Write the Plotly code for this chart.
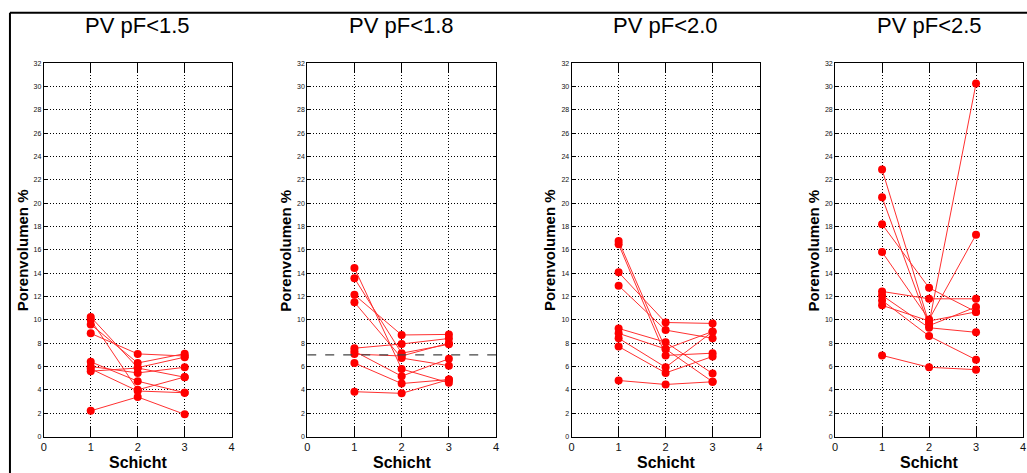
import plotly.graph_objects as go

W, H = 1027, 473

titles = ["PV pF<1.5", "PV pF<1.8", "PV pF<2.0", "PV pF<2.5"]
schicht = [1, 2, 3]

# values per sample: (Schicht 1, Schicht 2, Schicht 3)
pv15_s1 = [10.25, 10.0, 9.6, 8.84, 6.4, 6.0, 5.6, 2.2, 5.8]
pv15_s2 = [5.9, 4.0, 6.3, 7.08, 4.74, 5.45, 5.87, 3.39, 3.9]
pv15_s3 = [6.8, 5.1, 7.1, 6.9, 3.75, 5.93, 5.08, 1.9, 3.75]

pv18_s1 = [14.44, 13.56, 12.14, 11.5, 7.57, 7.06, 6.3, 3.84, 7.3]
pv18_s2 = [5.79, 7.14, 8.7, 6.72, 7.93, 6.9, 4.54, 3.7, 5.17]
pv18_s3 = [4.6, 7.9, 8.75, 6.07, 8.4, 8.0, 4.88, 4.88, 6.66]

pv20_s1 = [16.75, 16.47, 14.07, 12.93, 9.26, 8.84, 8.42, 7.71, 4.8]
pv20_s2 = [7.5, 6.95, 9.77, 9.12, 8.08, 7.5, 5.93, 5.45, 4.46]
pv20_s3 = [9.0, 7.14, 9.69, 8.42, 5.39, 4.69, 8.98, 6.86, 4.69]

pv25_s1 = [22.88, 20.5, 18.19, 15.81, 12.43, 12.09, 11.66, 11.24, 6.95]
pv25_s2 = [9.69, 9.5, 12.74, 10.03, 11.8, 9.32, 8.61, 9.9, 5.93]
pv25_s3 = [30.25, 11.1, 10.68, 17.3, 11.8, 8.93, 6.58, 10.68, 5.73]

ref_line_18 = 7.0

panels = [
    (pv15_s1, pv15_s2, pv15_s3),
    (pv18_s1, pv18_s2, pv18_s3),
    (pv20_s1, pv20_s2, pv20_s3),
    (pv25_s1, pv25_s2, pv25_s3),
]

# pixel layout
x_left = [41, 306, 572, 837]
x_right = [230, 496, 761, 1026]
y_top, y_bot = 60, 439

fig = go.Figure()
font = "Liberation Sans, Arial, sans-serif"

annotations = []
for i, (s1, s2, s3) in enumerate(panels):
    n = i + 1
    xa = "x" if n == 1 else f"x{n}"
    ya = "y" if n == 1 else f"y{n}"
    for a, b, c in zip(s1, s2, s3):
        fig.add_trace(go.Scatter(
            x=schicht, y=[a, b, c], mode="lines+markers",
            line=dict(color="#ff3030", width=1),
            marker=dict(color="#ff0000", size=8),
            xaxis=xa, yaxis=ya, showlegend=False, hoverinfo="skip"))
    dom_x = [x_left[i] / W, x_right[i] / W]
    dom_y = [(H - y_bot) / H, (H - y_top) / H]
    axis_common = dict(
        showline=True, linecolor="black", linewidth=1, mirror="ticks",
        showgrid=True, gridcolor="black", gridwidth=1, griddash="1px,2px",
        zeroline=False, ticks="inside", tickcolor="black",
    )
    fig.update_layout(**{
        ("xaxis" if n == 1 else f"xaxis{n}"): dict(
            domain=dom_x, range=[0, 4], dtick=1, tick0=0,
            anchor=ya, ticklen=10,
            tickfont=dict(family=font, size=11, color="#111"),
            **axis_common),
        ("yaxis" if n == 1 else f"yaxis{n}"): dict(
            domain=dom_y, range=[0, 32], dtick=2, tick0=0,
            anchor=xa, ticklen=3,
            tickfont=dict(family=font, size=7, color="#111"),
            **axis_common),
    })
    cx = (x_left[i] + x_right[i]) / 2 / W
    annotations.append(dict(
        text=titles[i], x=cx, y=(H - 22) / H, xref="paper", yref="paper",
        showarrow=False, xanchor="center", yanchor="middle",
        font=dict(family=font, size=22, color="black")))
    annotations.append(dict(
        text="<b>Schicht</b>", x=cx, y=(H - 465) / H, xref="paper", yref="paper",
        showarrow=False, xanchor="center", yanchor="middle",
        font=dict(family=font, size=16, color="black")))
    annotations.append(dict(
        text="<b>Porenvolumen %</b>", x=(x_left[i] - 22) / W, y=(H - 250) / H,
        xref="paper", yref="paper", textangle=-90,
        showarrow=False, xanchor="center", yanchor="middle",
        font=dict(family=font, size=15, color="black")))

# dashed reference line in panel 2
fig.add_shape(type="line", xref="x2", yref="y2", x0=0, x1=4,
              y0=ref_line_18, y1=ref_line_18,
              line=dict(color="#444", width=1.2, dash="dash"))

# outer frame (top and left edges visible)
fig.add_shape(type="line", xref="paper", yref="paper",
              x0=7 / W, x1=1.01, y0=(H - 9) / H, y1=(H - 9) / H,
              line=dict(color="black", width=2))
fig.add_shape(type="line", xref="paper", yref="paper",
              x0=7 / W, x1=7 / W, y0=-0.01, y1=(H - 9) / H,
              line=dict(color="black", width=2))

fig.update_layout(
    width=W, height=H, margin=dict(l=0, r=0, t=0, b=0),
    paper_bgcolor="white", plot_bgcolor="white",
    annotations=annotations, showlegend=False,
)

fig.write_html("out.html")
